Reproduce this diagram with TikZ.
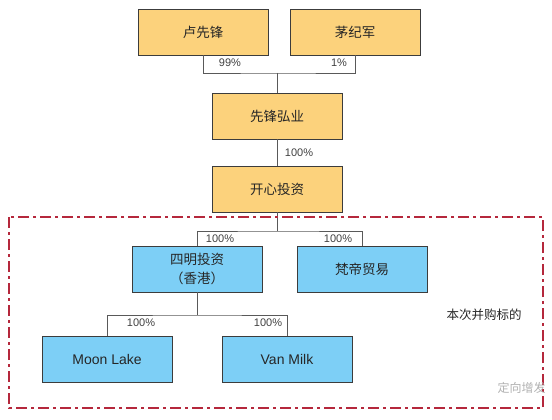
\documentclass[tikz,border=0pt]{standalone}
\usepackage{fontspec}
\setmainfont{Liberation Sans}
\newfontfamily\cjk{Noto Sans CJK SC}
\usepackage{xcolor}
\usepackage{tikz}
\definecolor{boxOrange}{HTML}{FCD27C}
\definecolor{boxBlue}{HTML}{7DCFF6}
\definecolor{edgeGray}{HTML}{3C3C3C}
\definecolor{frameRed}{HTML}{B5283C}

\begin{document}
\begin{tikzpicture}[x=1pt, y=-1pt,
        box/.style={draw=edgeGray, line width=0.9pt, minimum width=130pt,
                    minimum height=46pt, inner sep=0pt, align=center,
                    text=black!85, font=\cjk\fontsize{13.5}{19}\selectfont},
        own/.style={box, fill=boxOrange},
        sub/.style={box, fill=boxBlue},
        latin/.style={font=\fontsize{14}{16}\selectfont},
        link/.style={draw=edgeGray!85, line width=0.8pt},
        pct/.style={inner sep=1pt, text=black!75, font=\fontsize{11}{12}\selectfont},
        frame/.style={draw=frameRed, line width=1.6pt,
                      dash pattern=on 11pt off 4pt on 3pt off 4pt},
    ]
        \useasboundingbox (0,0) rectangle (552,420);

        % owners
        \node[own] (lu)  at (203,32) {卢先锋};
        \node[own] (mao) at (355,32) {茅纪军};
        \node[own] (xf)  at (277,116) {先锋弘业};
        \node[own] (kx)  at (277,189) {开心投资};

        % targets
        \node[sub] (sm) at (197,269) {四明投资\\（香港）};
        \node[sub] (fd) at (362,269) {梵帝贸易};
        \node[sub, latin] (ml) at (107,359) {Moon Lake};
        \node[sub, latin] (vm) at (287,359) {Van Milk};

        \coordinate (j1) at (277,73);
        \coordinate (j2) at (277,231);
        \coordinate (j3) at (197,315);

        \draw[link] (lu.south) |- (j1) -| (mao.south);
        \draw[link] (j1) -- (xf.north);
        \draw[link] (xf.south) -- (kx.north);
        \draw[link] (kx.south) -- (j2);
        \draw[link] (sm.north) |- (j2) -| (fd.north);
        \draw[link] (sm.south) -- (j3);
        \draw[link] (ml.north) |- (j3) -| (vm.north);

        \node[pct] (p1) at (230,63) {99\%};
        \node[pct] (p2) at (339,63) {1\%};
        \node[pct] (p3) at (299,153) {100\%};
        \node[pct] (p4) at (220,239) {100\%};
        \node[pct] (p5) at (338,239) {100\%};
        \node[pct] (p6) at (141,323) {100\%};
        \node[pct] (p7) at (268,323) {100\%};

        % deal scope
        \coordinate (fa) at (9,217);
        \coordinate (fb) at (543,408);
        \draw[frame] (fa) rectangle (fb);
        \node[text=black!85, font=\cjk\fontsize{12.5}{14}\selectfont] (tag) at (484,315) {本次并购标的};
        \node[anchor=west, text=black!30, font=\cjk\fontsize{12}{14}\selectfont] (wm) at (494,388) {定向增发};
    \end{tikzpicture}
\end{document}
